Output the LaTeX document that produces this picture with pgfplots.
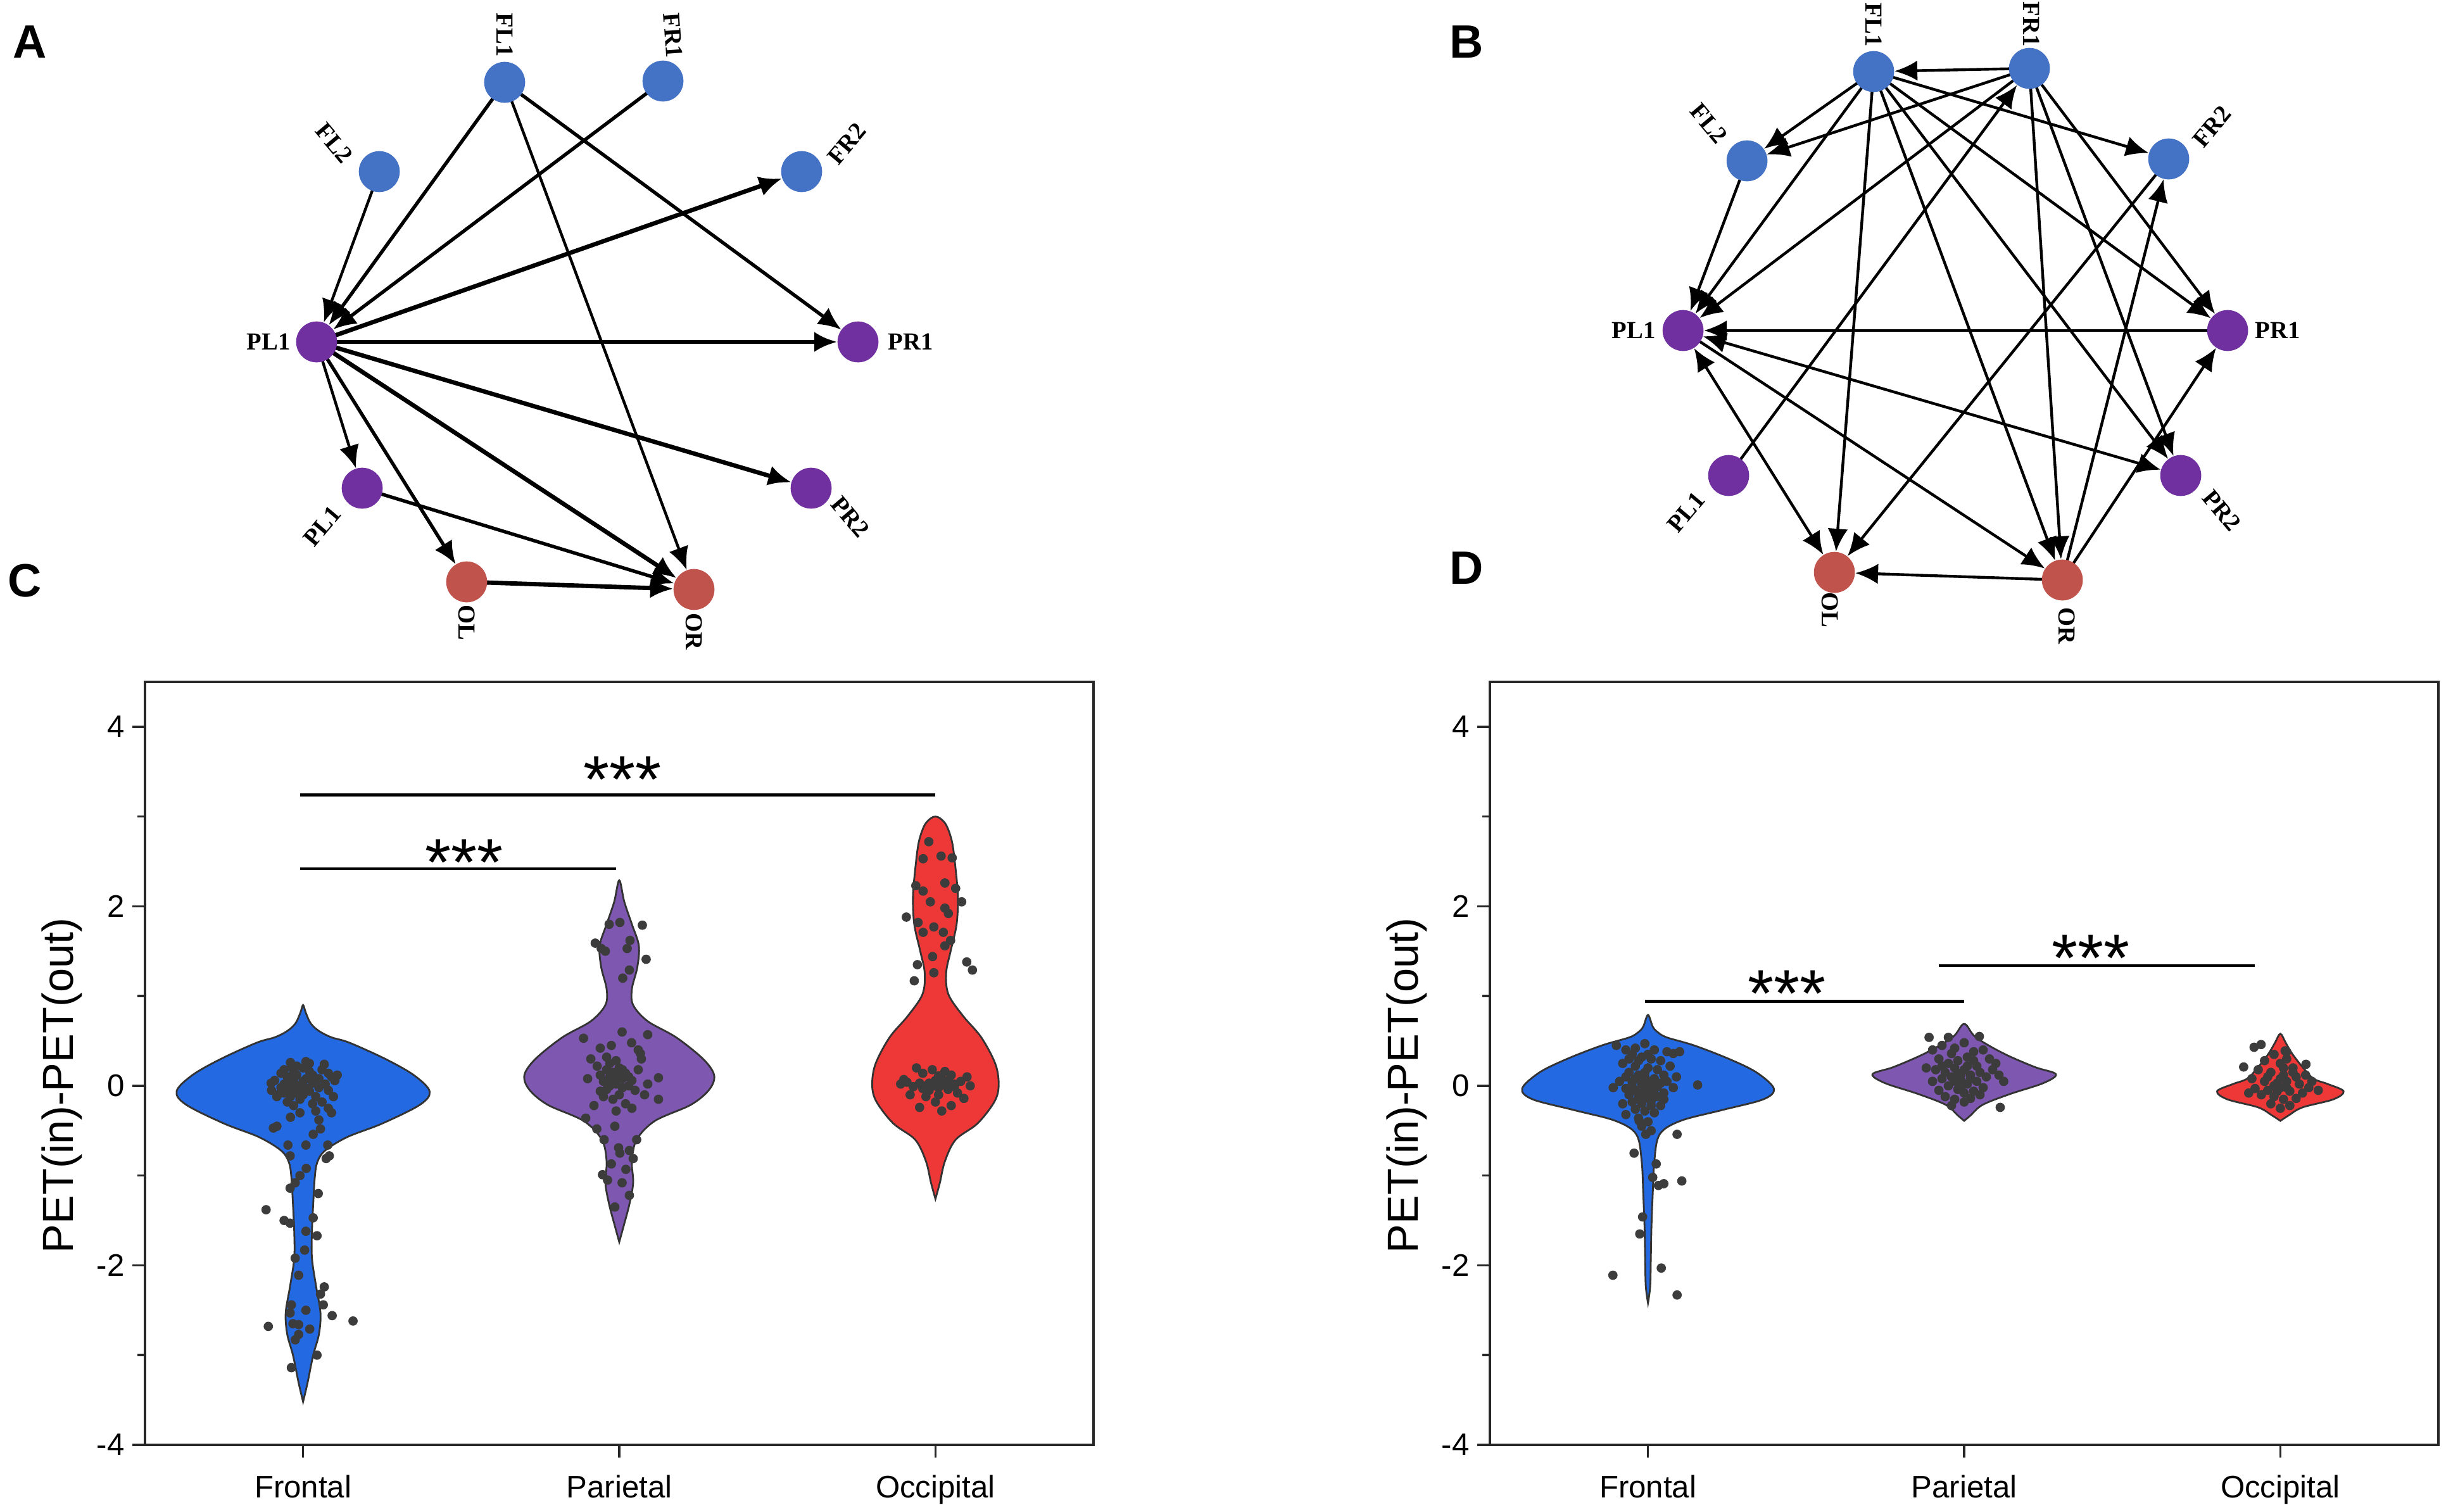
\documentclass[border=0pt]{standalone}
\usepackage{fontspec}
\setmainfont{Liberation Sans}
\newfontfamily\tnr{Liberation Serif}
\usepackage{pgfplots}
\pgfplotsset{compat=1.18}
\usetikzlibrary{arrows.meta}

\definecolor{nblue}{RGB}{68,114,196}
\definecolor{npurple}{RGB}{112,48,160}
\definecolor{nred}{RGB}{192,84,77}
\definecolor{vblue}{RGB}{35,105,225}
\definecolor{vpurple}{RGB}{126,87,176}
\definecolor{vred}{RGB}{238,56,56}
\definecolor{dotc}{RGB}{60,60,60}

\pgfplotsset{
  edge/.style={black, line width=1.25pt, -{Latex[length=3.6mm,width=3.2mm]}, shorten >=3.3mm, shorten <=3.1mm},
  both/.style={{Latex[length=3.6mm,width=3.2mm]}-{Latex[length=3.6mm,width=3.2mm]}, shorten <=3.3mm},
  thin/.style={line width=1.25pt},
  mid/.style={line width=1.55pt},
  fat/.style={line width=1.95pt},
  violin/.style={draw=black!80, line width=0.8pt, smooth, tension=0.55},
  dots/.style={only marks, mark=*, mark size=1.9pt, color=dotc},
  sig/.style={black, line width=1.3pt},
  violinax/.style={
    anchor=north west, width=149.8mm, height=120.5mm, scale only axis,
    xmin=0.5, xmax=3.5, ymin=-4, ymax=4.5,
    xtick={1,2,3}, xticklabels={Frontal,Parietal,Occipital},
    ytick={-4,-2,0,2,4}, yticklabels={-4,-2,0,2,4},
    minor ytick={-3,-1,1,3},
    xtick pos=bottom, ytick pos=left, tick align=outside,
    major tick length=2mm, minor tick length=1.2mm,
    axis line style={line width=1.1pt, black!85},
    tick style={line width=1pt, black!85},
    ticklabel style={font=\fontsize{14}{16}\selectfont},
    xticklabel style={yshift=-1.5mm},
    ylabel={PET(in)-PET(out)},
    ylabel style={font=\fontsize{19.5}{22}\selectfont, at={(axis description cs:-0.0875,0.471)}, anchor=center},
    clip=false
  }
}

% one arrow between two nodes, in pixel units of the overlay axis
\newcommand{\edge}[5][]{\addplot[edge,#1] coordinates {(#2,#3) (#4,#5)};}
\newcommand{\nlab}[4]{\node[font=\tnr\bfseries\fontsize{11}{12}\selectfont, rotate=#3, inner sep=0pt] at (axis cs:#1,#2) {#4};}
\newcommand{\stars}[2]{\node[font=\fontsize{30}{32}\selectfont, anchor=base, inner sep=0pt] at (axis cs:#1,#2) {***};}

\begin{document}
\begin{tikzpicture}
\useasboundingbox (0,0) rectangle (386.3mm,-238.8mm);

% ---------- networks A and B, drawn in pixel coordinates ----------
\begin{axis}[at={(0mm,0mm)}, anchor=north west, width=386.3mm, height=238.8mm,
  scale only axis, xmin=0, xmax=3863, ymin=0, ymax=2388, y dir=reverse,
  hide axis, clip=false]

% panel A
\edge[thin]{599}{271}{500}{540}
\edge[mid]{797}{130}{500}{540}
\edge[mid]{1047}{128}{500}{540}
\edge[fat]{500}{540}{1266}{271}
\edge[mid]{797}{130}{1355}{540}
\edge[thin]{797}{130}{1096}{931}
\edge[fat]{500}{540}{1355}{540}
\edge[fat]{500}{540}{1281}{771}
\edge[thin]{500}{540}{572}{771}
\edge[mid]{500}{540}{737}{919}
\edge[fat]{500}{540}{1096}{931}
\edge[mid]{572}{771}{1096}{931}
\edge[fat]{737}{919}{1096}{931}

% panel B
\edge{3205}{108}{2959}{113}
\edge{2959}{113}{2759}{254}
\edge{3205}{108}{2759}{254}
\edge{2959}{113}{3425}{251}
\edge{2759}{254}{2658}{522}
\edge{2959}{113}{2658}{522}
\edge{3205}{108}{2658}{522}
\edge{2730}{751}{3205}{108}
\edge{2959}{113}{2897}{904}
\edge{2959}{113}{3257}{916}
\edge{2959}{113}{3444}{751}
\edge{2959}{113}{3518}{522}
\edge{3205}{108}{3257}{916}
\edge{3205}{108}{3518}{522}
\edge{3205}{108}{3444}{751}
\edge{3518}{522}{2658}{522}
\edge[both]{2658}{522}{3444}{751}
\edge[both]{2658}{522}{2897}{904}
\edge{2658}{522}{3257}{916}
\edge{3257}{916}{2897}{904}
\edge{3257}{916}{3425}{251}
\edge{3257}{916}{3518}{522}
\edge{3425}{251}{2897}{904}

% nodes
\addplot[only marks, mark=*, mark size=9pt, color=nblue] coordinates {
  (797,130) (1047,128) (599,271) (1266,271)
  (2959,113) (3205,108) (2759,254) (3425,251)};
\addplot[only marks, mark=*, mark size=9pt, color=npurple] coordinates {
  (500,540) (1355,540) (572,771) (1281,771)
  (2658,522) (3518,522) (2730,751) (3444,751)};
\addplot[only marks, mark=*, mark size=9pt, color=nred] coordinates {
  (737,919) (1096,931) (2897,904) (3257,916)};

% node labels
\nlab{797}{55}{-90}{FL1}
\nlab{1063}{56}{-86}{FR1}
\nlab{528}{226}{-50}{FL2}
\nlab{1337}{227}{50}{FR2}
\nlab{424}{540}{0}{PL1}
\nlab{1438}{540}{0}{PR1}
\nlab{509}{831}{50}{PL1}
\nlab{1343}{816}{-50}{PR2}
\nlab{737}{983}{-90}{OL}
\nlab{1096}{997}{-90}{OR}

\nlab{2959}{39}{-90}{FL1}
\nlab{3208}{38}{-90}{FR1}
\nlab{2699}{195}{-50}{FL2}
\nlab{3493}{200}{50}{FR2}
\nlab{2580}{522}{0}{PL1}
\nlab{3597}{522}{0}{PR1}
\nlab{2663}{809}{50}{PL1}
\nlab{3509}{806}{-50}{PR2}
\nlab{2890}{963}{-90}{OL}
\nlab{3264}{988}{-90}{OR}

% panel letters
\node[font=\bfseries\fontsize{21}{24}\selectfont] at (axis cs:47,66) {A};
\node[font=\bfseries\fontsize{21}{24}\selectfont] at (axis cs:2316,66) {B};
\node[font=\bfseries\fontsize{21}{24}\selectfont] at (axis cs:39,917) {C};
\node[font=\bfseries\fontsize{21}{24}\selectfont] at (axis cs:2316,897) {D};
\end{axis}

% ---------- panel C ----------
\begin{axis}[violinax, at={(22.9mm,-107.7mm)}]
\addplot[violin, fill=vblue] coordinates {
 (1,-3.52) (1.014,-3.31) (1.032,-3.00) (1.050,-2.77) (1.055,-2.53) (1.041,-2.23)
 (1.028,-1.92) (1.028,-1.62) (1.032,-1.32) (1.037,-1.02) (1.045,-0.85) (1.07,-0.72)
 (1.14,-0.57) (1.25,-0.42) (1.37,-0.21) (1.40,-0.06) (1.35,0.12) (1.26,0.30)
 (1.147,0.48) (1.09,0.54) (1.055,0.60) (1.033,0.66) (1.020,0.72) (1.008,0.82) (1,0.90)
 (0.992,0.82) (0.980,0.72) (0.967,0.66) (0.945,0.60) (0.91,0.54) (0.853,0.48)
 (0.74,0.30) (0.65,0.12) (0.60,-0.06) (0.63,-0.21) (0.75,-0.42) (0.86,-0.57)
 (0.93,-0.72) (0.955,-0.85) (0.963,-1.02) (0.968,-1.32) (0.972,-1.62) (0.972,-1.92)
 (0.959,-2.23) (0.945,-2.53) (0.950,-2.77) (0.968,-3.00) (0.986,-3.31) (1,-3.52)} -- cycle;
\addplot[violin, fill=vpurple] coordinates {
 (2,-1.74) (2.014,-1.56) (2.032,-1.32) (2.044,-1.08) (2.040,-0.84) (2.055,-0.60)
 (2.113,-0.39) (2.227,-0.21) (2.285,-0.04) (2.30,0.12) (2.265,0.30) (2.18,0.54)
 (2.09,0.72) (2.044,0.90) (2.040,1.08) (2.057,1.32) (2.062,1.56) (2.040,1.80) (2.016,2.05) (2,2.29)
 (1.984,2.05) (1.96,1.80) (1.938,1.56) (1.943,1.32) (1.96,1.08) (1.956,0.90) (1.91,0.72)
 (1.82,0.54) (1.735,0.30) (1.70,0.12) (1.715,-0.04) (1.773,-0.21) (1.887,-0.39)
 (1.945,-0.60) (1.96,-0.84) (1.956,-1.08) (1.968,-1.32) (1.986,-1.56) (2,-1.74)} -- cycle;
\addplot[violin, fill=vred] coordinates {
 (3,-1.26) (3.014,-1.08) (3.030,-0.84) (3.064,-0.60) (3.133,-0.42) (3.186,-0.18)
 (3.200,0.00) (3.19,0.24) (3.145,0.54) (3.087,0.78) (3.041,1.02) (3.034,1.26)
 (3.048,1.50) (3.067,1.80) (3.071,2.11) (3.064,2.41) (3.053,2.71) (3.035,2.90) (3.015,2.98) (3,3.00)
 (2.985,2.98) (2.965,2.90) (2.947,2.71) (2.936,2.41) (2.929,2.11) (2.933,1.80) (2.952,1.50)
 (2.966,1.26) (2.959,1.02) (2.913,0.78) (2.855,0.54) (2.81,0.24) (2.80,0.00) (2.814,-0.18)
 (2.867,-0.42) (2.936,-0.60) (2.970,-0.84) (2.986,-1.08) (3,-1.26)} -- cycle;

% Frontal points
\addplot[dots] coordinates {
 (0.95,0.10) (0.97,0.05) (0.99,0.00) (1.01,-0.03) (0.96,-0.05) (0.98,-0.08) (1.00,-0.10)
 (1.02,-0.06) (0.94,0.02) (0.93,-0.02) (0.97,0.15) (1.00,0.20) (1.03,0.12) (1.05,0.08)
 (1.07,0.02) (1.04,-0.12) (0.99,-0.15) (0.95,-0.18) (0.92,-0.10) (0.91,0.06) (0.98,0.22)
 (1.02,0.25) (0.96,0.26) (1.06,0.18) (1.08,-0.05) (1.09,0.10) (1.03,-0.20) (0.97,-0.22)
 (1.00,0.05) (0.98,0.12) (1.01,0.08) (0.96,-0.12) (0.94,-0.08) (1.05,-0.02) (1.03,0.03)
 (0.99,-0.04) (0.97,-0.01) (1.00,-0.06) (0.95,0.00) (1.02,0.16) (1.10,0.06) (1.08,0.14)
 (0.93,0.14) (1.06,-0.18) (1.04,-0.28) (0.99,-0.30) (0.96,-0.35) (1.05,-0.38) (1.08,-0.25)
 (0.90,-0.05)
 (0.906,-0.47) (0.917,-0.45) (0.952,-0.66) (0.959,-0.78) (1.009,-0.66) (1.032,-0.54)
 (1.083,-0.78) (1.073,-0.81) (1.078,-0.66) (1.055,-0.48) (1.09,-0.30) (1.096,-0.12)
 (1.101,0.06) (1.108,0.12) (1.067,0.24) (1.009,0.27) (0.963,0.21) (0.94,0.18) (0.899,0.03)
 (0.917,-0.12)
 (0.959,-1.14) (0.975,-1.08) (1.048,-1.20) (1.032,-1.47) (1.044,-1.67) (0.883,-1.38)
 (0.94,-1.50) (0.959,-1.53) (1.009,-1.62) (1.005,-1.83) (0.975,-1.92) (0.986,-2.11)
 (1.067,-2.24) (1.055,-2.32) (1.064,-2.44) (1.092,-2.56) (1.158,-2.62) (0.89,-2.68)
 (0.963,-2.44) (0.959,-2.53) (0.968,-2.65) (0.986,-2.66) (0.975,-2.83) (1.009,-2.50)
 (1.021,-2.71) (1.044,-3.00) (0.963,-3.14) (0.986,-2.77) (1.01,-0.92) (0.99,-1.00)};
% Parietal points
\addplot[dots] coordinates {
 (1.968,1.80) (2.002,1.82) (2.073,1.79) (1.924,1.59) (1.943,1.53) (1.956,1.50) (2.025,1.53)
 (2.085,1.41) (2.032,1.29) (2.011,1.20) (2.034,1.62)
 (1.887,0.53) (2.009,0.60) (2.09,0.57) (1.94,0.42) (1.975,0.45) (2.039,0.48) (2.067,0.36)
 (1.95,0.05) (1.97,0.10) (1.99,0.02) (2.01,0.08) (2.03,0.00) (1.96,-0.04) (1.98,0.15)
 (2.00,0.20) (2.02,0.14) (2.04,0.06) (1.94,0.12) (1.93,0.22) (1.97,0.25) (2.05,-0.05)
 (2.00,-0.10) (1.98,-0.15) (2.02,-0.20) (1.95,-0.12) (2.06,0.18) (2.07,0.30) (1.91,0.30)
 (1.96,0.32) (1.99,0.28) (2.01,-0.02) (1.97,0.00) (2.03,0.10) (2.00,0.12) (1.94,-0.06)
 (2.08,-0.10) (2.04,-0.25) (1.92,-0.22) (1.99,-0.28) (2.06,0.40) (1.90,0.08) (2.09,0.02)
 (1.98,0.06) (2.01,0.18) (1.96,0.18)
 (1.894,-0.36) (1.929,-0.48) (1.952,-0.60) (1.986,-0.45) (2.055,-0.60) (2.124,-0.15)
 (2.124,0.09) (1.998,-0.69) (2.032,-0.72) (2.044,-0.81) (2.021,-0.93) (2.002,-0.75)
 (1.947,-0.99) (1.963,-1.05) (2.009,-1.08) (2.032,-1.22) (1.986,-1.35) (1.975,-0.87)};
% Occipital points
\addplot[dots] coordinates {
 (2.979,2.72) (3.018,2.56) (3.053,2.54) (2.961,2.53) (2.938,2.23) (2.961,2.17) (3.03,2.26)
 (3.064,2.20) (3.083,2.05) (3.03,1.98) (2.984,2.05) (3.041,1.92) (2.908,1.88) (2.945,1.82)
 (2.995,1.77) (3.025,1.71) (2.961,1.71) (3.048,1.62) (3.03,1.56) (2.943,1.35) (2.933,1.17)
 (2.995,1.26) (3.099,1.38) (3.117,1.29) (2.991,1.44)
 (2.97,0.00) (2.99,0.02) (3.01,-0.02) (3.03,0.01) (2.95,0.03) (3.00,0.06) (3.02,0.08)
 (2.98,-0.05) (3.04,-0.04) (3.06,0.02) (2.93,-0.01) (2.91,0.04) (3.08,0.05) (3.10,0.10)
 (3.05,0.12) (2.96,0.14) (2.99,0.18) (3.03,0.16) (2.94,0.20) (3.07,-0.08) (3.01,-0.10)
 (2.97,-0.12) (3.09,-0.14) (2.92,-0.10) (2.89,0.02) (3.00,-0.18) (3.05,-0.22) (3.02,-0.28)
 (2.95,-0.24) (3.00,0.00) (2.98,0.03) (3.02,0.03) (3.04,0.06) (2.96,-0.03) (3.06,-0.01)
 (3.11,0.00) (2.90,0.07) (3.01,0.11)};

\addplot[sig] coordinates {(0.99,2.42) (1.99,2.42)};
\addplot[sig] coordinates {(0.99,3.24) (3.00,3.24)};
\stars{1.51}{2.235}
\stars{2.01}{3.155}
\end{axis}

% ---------- panel D ----------
\begin{axis}[violinax, at={(235.3mm,-107.7mm)}]
\addplot[violin, fill=vblue] coordinates {
 (1,-2.42) (1.007,-2.23) (1.009,-1.92) (1.011,-1.56) (1.015,-1.20) (1.020,-0.84)
 (1.037,-0.54) (1.103,-0.39) (1.234,-0.27) (1.365,-0.15) (1.398,-0.03) (1.343,0.15)
 (1.256,0.30) (1.146,0.45) (1.059,0.54) (1.030,0.60) (1.015,0.66) (1,0.79)
 (0.985,0.66) (0.970,0.60) (0.941,0.54) (0.854,0.45) (0.744,0.30) (0.657,0.15)
 (0.602,-0.03) (0.635,-0.15) (0.766,-0.27) (0.897,-0.39) (0.963,-0.54) (0.980,-0.84)
 (0.985,-1.20) (0.989,-1.56) (0.991,-1.92) (0.993,-2.23) (1,-2.42)} -- cycle;
\addplot[violin, fill=vpurple] coordinates {
 (2,-0.39) (2.020,-0.33) (2.059,-0.21) (2.146,-0.09) (2.25,0.03) (2.29,0.13) (2.223,0.21)
 (2.125,0.36) (2.037,0.54) (2,0.69)
 (1.963,0.54) (1.875,0.36) (1.777,0.21) (1.71,0.13) (1.75,0.03) (1.854,-0.09) (1.941,-0.21)
 (1.98,-0.33) (2,-0.39)} -- cycle;
\addplot[violin, fill=vred] coordinates {
 (3,-0.39) (3.026,-0.33) (3.07,-0.24) (3.168,-0.15) (3.20,-0.06) (3.15,0.02) (3.105,0.08)
 (3.07,0.21) (3.037,0.36) (3.017,0.48) (3,0.58)
 (2.983,0.48) (2.963,0.36) (2.93,0.21) (2.895,0.08) (2.85,0.02) (2.80,-0.06) (2.832,-0.15)
 (2.93,-0.24) (2.974,-0.33) (3,-0.39)} -- cycle;

% Frontal points
\addplot[dots] coordinates {
 (0.90,0.45) (0.93,0.40) (0.96,0.42) (0.99,0.47) (1.02,0.40) (1.06,0.38) (1.08,0.36)
 (1.10,0.38) (0.95,0.35) (0.98,0.32) (1.01,0.30) (1.04,0.28) (0.92,0.25) (0.96,0.22)
 (1.00,0.20) (1.03,0.18) (1.07,0.22) (0.94,0.15) (0.97,0.12) (0.99,0.10) (1.02,0.08)
 (1.05,0.12) (0.91,0.05) (0.95,0.04) (0.98,0.02) (1.01,0.00) (1.04,0.03) (0.89,-0.02)
 (0.93,-0.03) (0.96,-0.05) (0.99,-0.06) (1.02,-0.04) (1.05,-0.08) (1.08,-0.02) (0.94,-0.10)
 (0.97,-0.12) (1.00,-0.14) (1.03,-0.12) (0.95,-0.18) (0.98,-0.20) (1.01,-0.17) (1.04,-0.22)
 (0.92,-0.20) (0.96,-0.26) (0.99,-0.28) (1.02,-0.30) (0.93,-0.32) (0.97,-0.36) (1.00,-0.40)
 (0.98,-0.45) (1.01,-0.50) (0.97,-0.08) (0.99,-0.02) (1.00,-0.08) (0.98,-0.10) (1.02,-0.10)
 (0.96,0.08) (1.00,0.05) (1.03,-0.01) (0.97,-0.15) (1.01,-0.22) (0.95,-0.01) (0.99,0.15)
 (1.06,0.05) (0.93,0.10) (1.00,0.35) (0.97,0.28) (1.05,-0.15) (0.94,0.30) (1.09,0.10)
 (1.157,0.01) (1.092,-0.54) (0.956,-0.75) (1.026,-0.87) (1.015,-1.02) (1.033,-1.11)
 (1.05,-1.09) (1.107,-1.06) (0.983,-1.46) (0.974,-1.65) (1.042,-2.03) (0.889,-2.11)
 (1.092,-2.33) (0.993,-0.54) (0.972,-0.39)};
% Parietal points
\addplot[dots] coordinates {
 (1.889,0.54) (1.95,0.54) (2.048,0.55) (2.114,-0.24) (2.125,0.05)
 (1.90,0.40) (1.93,0.45) (1.97,0.42) (2.00,0.48) (2.03,0.38) (2.06,0.40) (2.08,0.30)
 (2.10,0.25) (1.92,0.30) (1.95,0.25) (1.98,0.28) (2.01,0.32) (2.04,0.22) (1.91,0.18)
 (1.94,0.15) (1.97,0.20) (2.00,0.18) (2.02,0.12) (2.05,0.15) (2.07,0.10) (1.90,0.05)
 (1.93,0.08) (1.96,0.10) (1.99,0.06) (2.01,0.02) (2.04,0.05) (2.06,-0.02) (1.92,-0.05)
 (1.95,0.00) (1.98,-0.04) (2.00,-0.08) (2.03,-0.06) (1.94,-0.12) (1.97,-0.15) (2.00,-0.18)
 (2.02,-0.14) (1.96,-0.22) (1.99,0.12) (2.01,0.22) (1.98,0.14) (2.03,0.28) (1.96,0.36)
 (2.09,0.18) (1.88,0.20) (2.11,0.12) (1.99,0.00) (2.02,0.08) (1.97,0.05) (2.05,-0.10)
 (1.93,0.22)};
% Occipital points
\addplot[dots] coordinates {
 (2.917,0.43) (2.939,0.46) (2.884,0.21) (3.081,0.24) (3.015,0.39)
 (2.98,0.35) (3.02,0.30) (2.95,0.28) (3.00,0.25) (3.04,0.20) (2.93,0.18) (2.97,0.15)
 (3.01,0.12) (3.05,0.10) (2.91,0.08) (2.95,0.05) (2.99,0.03) (3.02,0.05) (3.06,0.02)
 (3.09,-0.02) (2.92,-0.03) (2.96,-0.05) (3.00,-0.02) (3.03,-0.06) (3.07,-0.08) (2.94,-0.10)
 (2.98,-0.12) (3.01,-0.15) (3.05,-0.14) (2.97,-0.20) (3.00,-0.25) (3.03,-0.22) (3.10,0.05)
 (3.12,-0.05) (2.90,-0.08) (3.00,0.08) (2.99,-0.06) (3.02,-0.02) (2.96,0.10) (3.04,0.15)
 (3.01,0.20) (2.98,0.00) (3.08,0.12) (3.02,0.38)};

\addplot[sig] coordinates {(0.99,0.94) (2.00,0.94)};
\addplot[sig] coordinates {(1.92,1.34) (2.92,1.34)};
\stars{1.44}{0.775}
\stars{2.40}{1.165}
\end{axis}
\end{tikzpicture}
\end{document}
